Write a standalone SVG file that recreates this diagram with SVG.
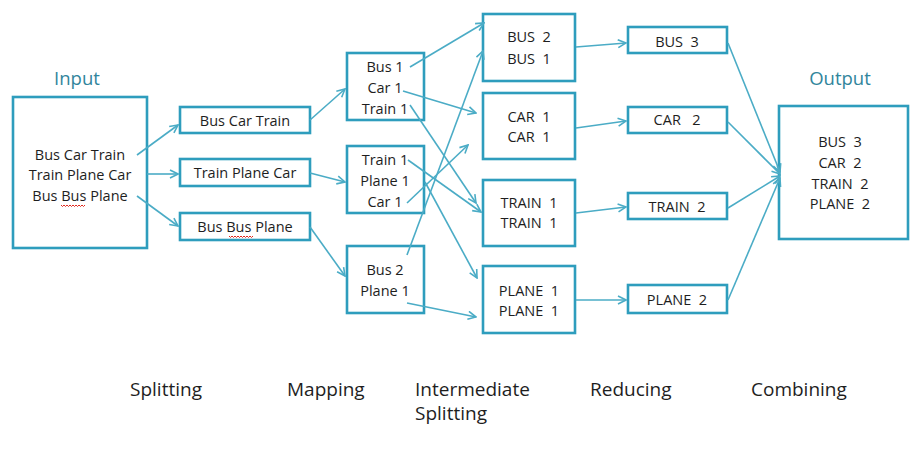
<svg xmlns="http://www.w3.org/2000/svg" width="912" height="451" viewBox="0 0 912 451">
<defs>
<style>
.box{fill:#fff;stroke:#2E9DBD;stroke-width:2.6}
.t{font-family:"Open Sans","Liberation Sans",sans-serif;font-size:14.5px;fill:#1E1E1E;text-anchor:middle;white-space:pre}
.h{font-family:"Open Sans","Liberation Sans",sans-serif;font-size:18.5px;fill:#31859C;text-anchor:middle}
.l{font-family:"Open Sans","Liberation Sans",sans-serif;font-size:19px;fill:#1E1E1E}
.c{fill:none;stroke:#4BACC6;stroke-width:1.6;marker-end:url(#a)}
.sq{fill:none;stroke:#E0281E;stroke-width:1}
</style>
<marker id="a" viewBox="0 0 10 10" refX="9" refY="5" markerWidth="10" markerHeight="10" markerUnits="userSpaceOnUse" orient="auto">
<path d="M1,1 L9,5 L1,9" fill="none" stroke="#4BACC6" stroke-width="1.6"/>
</marker>
</defs>
<rect width="912" height="451" fill="#fff"/>

<text class="h" x="77" y="85">Input</text>
<text class="h" x="840" y="85">Output</text>

<g id="input">
<rect class="box" x="13" y="97" width="134" height="151"/>
<text class="t" x="80" y="160">Bus Car Train</text>
<text class="t" x="80" y="180">Train Plane Car</text>
<text class="t" x="80" y="201">Bus Bus Plane</text>
<path class="sq" d="M61,205 l1.5,1.5 l1.5,-1.5 l1.5,1.5 l1.5,-1.5 l1.5,1.5 l1.5,-1.5 l1.5,1.5 l1.5,-1.5 l1.5,1.5 l1.5,-1.5 l1.5,1.5 l1.5,-1.5 l1.5,1.5 l1.5,-1.5 l1.5,1.5 l1.5,-1.5"/>
</g>

<g id="split1"><rect class="box" x="180" y="107" width="130" height="26"/><text class="t" x="245" y="126">Bus Car Train</text></g>
<g id="split2"><rect class="box" x="180" y="159" width="130" height="27"/><text class="t" x="245" y="178">Train Plane Car</text></g>
<g id="split3"><rect class="box" x="180" y="213" width="130" height="27"/><text class="t" x="245" y="232">Bus Bus Plane</text>
<path class="sq" d="M229,236 l1.5,1.5 l1.5,-1.5 l1.5,1.5 l1.5,-1.5 l1.5,1.5 l1.5,-1.5 l1.5,1.5 l1.5,-1.5 l1.5,1.5 l1.5,-1.5 l1.5,1.5 l1.5,-1.5 l1.5,1.5 l1.5,-1.5 l1.5,1.5 l1.5,-1.5"/></g>

<g id="map1"><rect class="box" x="347" y="53" width="77" height="67"/>
<text class="t" x="385" y="72">Bus 1</text><text class="t" x="385" y="93">Car 1</text><text class="t" x="385" y="114">Train 1</text></g>
<g id="map2"><rect class="box" x="347" y="146" width="77" height="67"/>
<text class="t" x="385" y="165">Train 1</text><text class="t" x="385" y="186">Plane 1</text><text class="t" x="385" y="207">Car 1</text></g>
<g id="map3"><rect class="box" x="347" y="246" width="77" height="67"/>
<text class="t" x="385" y="275">Bus 2</text><text class="t" x="385" y="296">Plane 1</text></g>

<g id="inter1"><rect class="box" x="483" y="14" width="92" height="67"/>
<text class="t" x="529" y="42">BUS  2</text><text class="t" x="529" y="64">BUS  1</text></g>
<g id="inter2"><rect class="box" x="483" y="93" width="92" height="66"/>
<text class="t" x="529" y="122">CAR  1</text><text class="t" x="529" y="142">CAR  1</text></g>
<g id="inter3"><rect class="box" x="483" y="180" width="92" height="66"/>
<text class="t" x="529" y="208">TRAIN  1</text><text class="t" x="529" y="228">TRAIN  1</text></g>
<g id="inter4"><rect class="box" x="483" y="266" width="92" height="67"/>
<text class="t" x="529" y="296">PLANE  1</text><text class="t" x="529" y="316">PLANE  1</text></g>

<g id="reduce1"><rect class="box" x="628" y="27" width="99" height="26"/><text class="t" x="677" y="47">BUS  3</text></g>
<g id="reduce2"><rect class="box" x="628" y="107" width="99" height="26"/><text class="t" x="677" y="125">CAR   2</text></g>
<g id="reduce3"><rect class="box" x="628" y="193" width="99" height="26"/><text class="t" x="677" y="212">TRAIN  2</text></g>
<g id="reduce4"><rect class="box" x="628" y="285" width="99" height="28"/><text class="t" x="677" y="305">PLANE  2</text></g>

<g id="output"><rect class="box" x="779" y="106" width="129" height="133"/>
<text class="t" x="840" y="147">BUS  3</text><text class="t" x="840" y="168">CAR  2</text><text class="t" x="840" y="189">TRAIN  2</text><text class="t" x="840" y="209">PLANE  2</text></g>

<g id="connectors">
<line class="c" x1="137" y1="155" x2="178" y2="125"/>
<line class="c" x1="147" y1="174" x2="178" y2="174"/>
<line class="c" x1="137" y1="196" x2="178" y2="226"/>
<line class="c" x1="310" y1="120" x2="345" y2="89"/>
<line class="c" x1="310" y1="173" x2="345" y2="182"/>
<line class="c" x1="310" y1="227" x2="345" y2="276"/>
<line class="c" x1="410" y1="67" x2="484" y2="23"/>
<line class="c" x1="403" y1="91" x2="476" y2="113"/>
<line class="c" x1="410" y1="105" x2="476" y2="203"/>
<line class="c" x1="408" y1="160" x2="481" y2="212"/>
<line class="c" x1="425" y1="182" x2="477" y2="278"/>
<line class="c" x1="407" y1="203" x2="468" y2="145"/>
<line class="c" x1="407" y1="255" x2="483" y2="51"/>
<line class="c" x1="407" y1="303" x2="476" y2="317"/>
<line class="c" x1="576" y1="47" x2="626" y2="43"/>
<line class="c" x1="576" y1="128" x2="626" y2="121"/>
<line class="c" x1="576" y1="213" x2="626" y2="207"/>
<line class="c" x1="576" y1="300" x2="626" y2="300"/>
<line class="c" x1="728" y1="43" x2="780" y2="172"/>
<line class="c" x1="728" y1="122" x2="780" y2="174"/>
<line class="c" x1="728" y1="208" x2="780" y2="176"/>
<line class="c" x1="728" y1="300" x2="780" y2="178"/>
</g>

<g id="labels">
<text class="l" x="130" y="396">Splitting</text>
<text class="l" x="287" y="396">Mapping</text>
<text class="l" x="415" y="396">Intermediate<tspan x="415" dy="24">Splitting</tspan></text>
<text class="l" x="590" y="396">Reducing</text>
<text class="l" x="751" y="396">Combining</text>
</g>
</svg>
